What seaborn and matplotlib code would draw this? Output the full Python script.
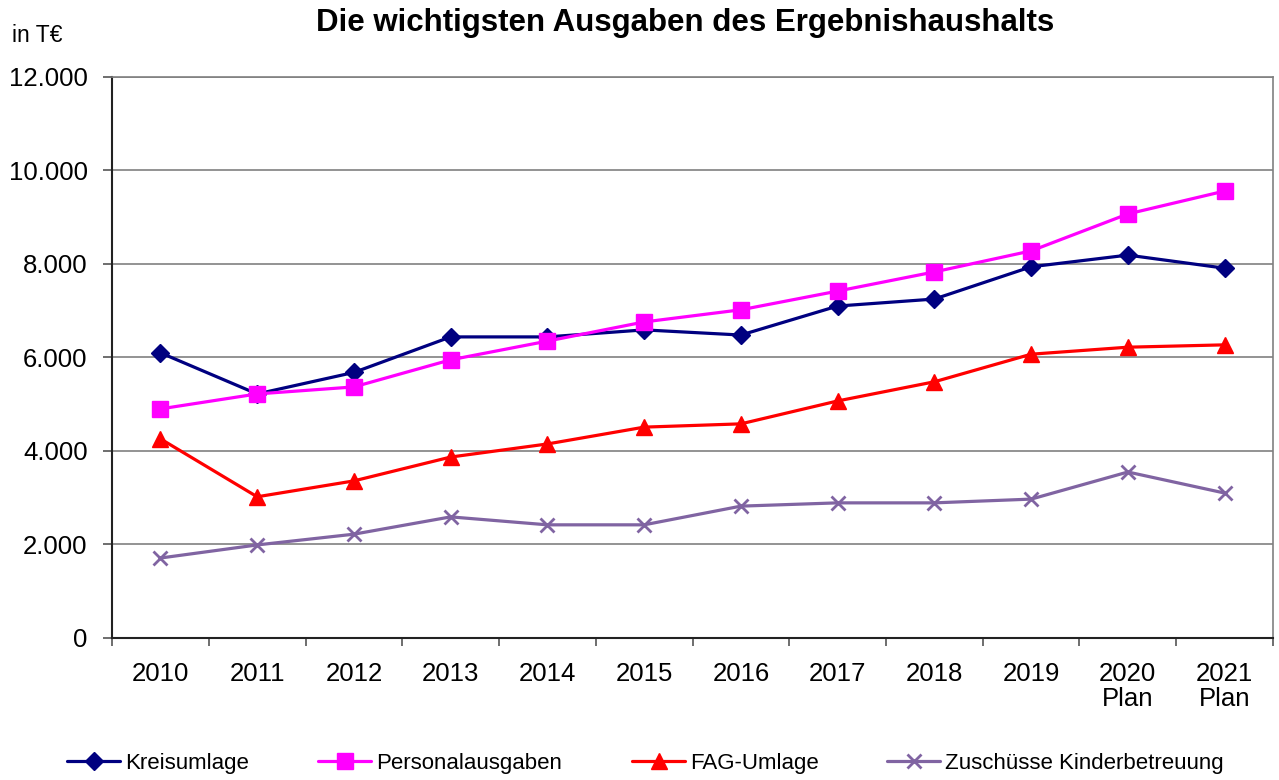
import matplotlib
matplotlib.use("Agg")
import matplotlib.pyplot as plt
import seaborn as sns
import pandas as pd
import numpy as np
from matplotlib.ticker import FixedLocator, FuncFormatter

years = ["2010", "2011", "2012", "2013", "2014", "2015", "2016", "2017", "2018", "2019", "2020\nPlan", "2021\nPlan"]
kreisumlage = [6100, 5220, 5680, 6440, 6440, 6590, 6480, 7100, 7250, 7940, 8190, 7910]
personal = [4900, 5220, 5370, 5950, 6350, 6760, 7020, 7420, 7830, 8280, 9070, 9560]
fag = [4260, 3020, 3360, 3870, 4150, 4510, 4580, 5070, 5480, 6070, 6220, 6270]
zuschuesse = [1710, 1990, 2220, 2590, 2420, 2420, 2820, 2890, 2890, 2970, 3550, 3100]

series = [
    ("Kreisumlage", kreisumlage, "#000080", "D", 9),
    ("Personalausgaben", personal, "#FF00FF", "s", 11),
    ("FAG-Umlage", fag, "#FF0000", "^", 11),
    ("Zuschüsse Kinderbetreuung", zuschuesse, "#8064A2", "x", 10),
]

sns.set_theme(style="white")
plt.rcParams['font.family'] = ['Liberation Sans', 'DejaVu Sans']
plt.rcParams['text.color'] = 'black'
plt.rcParams['xtick.color'] = 'black'
plt.rcParams['ytick.color'] = 'black'

fig = plt.figure(figsize=(12.79, 7.8), dpi=100)
ax = fig.add_axes([0.0876, 0.1821, 0.9077, 0.7192])

idx = np.arange(len(years))
for name, vals, col, mk, ms in series:
    df = pd.DataFrame({"x": idx, "y": vals})
    sns.lineplot(data=df, x="x", y="y", ax=ax, color=col, marker=mk,
                 markersize=ms, linewidth=2.3, label=name,
                 markeredgecolor=col, markeredgewidth=2 if mk == "x" else 1)

ax.set_xlim(-0.5, len(years) - 0.5)
ax.set_ylim(0, 12000)
ax.set_yticks(np.arange(0, 12001, 2000))
ax.yaxis.set_major_formatter(FuncFormatter(lambda v, p: f"{int(v):,}".replace(",", ".")))
ax.set_xticks(idx)
ax.set_xticklabels(years)
ax.xaxis.set_minor_locator(FixedLocator(np.arange(-0.5, len(years), 1.0)))
ax.tick_params(axis="x", which="major", length=0, labelsize=18.5, pad=17, labelcolor="black")
ax.tick_params(axis="x", which="minor", length=6, width=1.2, color="#555555", direction="out", bottom=True)
ax.tick_params(axis="y", length=6.5, width=1.2, color="#555555", labelsize=18.5, direction="out",
               left=True, pad=11, labelcolor="black")
for lbl in ax.get_xticklabels():
    lbl.set_linespacing(1.05)

ax.grid(axis="y", color="#808080", linewidth=1.2)
ax.set_axisbelow(True)
for s in ["left", "bottom"]:
    ax.spines[s].set_color("#222222")
    ax.spines[s].set_linewidth(1.5)
for s in ["top", "right"]:
    ax.spines[s].set_color("#808080")
    ax.spines[s].set_linewidth(1.2)
ax.set_xlabel("")
ax.set_ylabel("")

fig.text(685 / 1279, 1 - 23 / 780, "Die wichtigsten Ausgaben des Ergebnishaushalts", ha="center", va="center",
         fontsize=22.5, fontweight="bold", color="black")
fig.text(12 / 1279, 1 - 36 / 780, "in T€", ha="left", va="center", fontsize=16.5, color="black")

handles, labels = ax.get_legend_handles_labels()
ax.legend_.remove()
starts = [67, 318, 632, 887]
for h, l, x0 in zip(handles, labels, starts):
    fig.legend([h], [l], loc="center left", bbox_to_anchor=(x0 / 1279, 1 - 763 / 780), frameon=False,
               fontsize=16, handlelength=2.4, handletextpad=0.2, borderpad=0, borderaxespad=0,
               labelcolor="black")

fig.savefig("out.png", dpi=100)
